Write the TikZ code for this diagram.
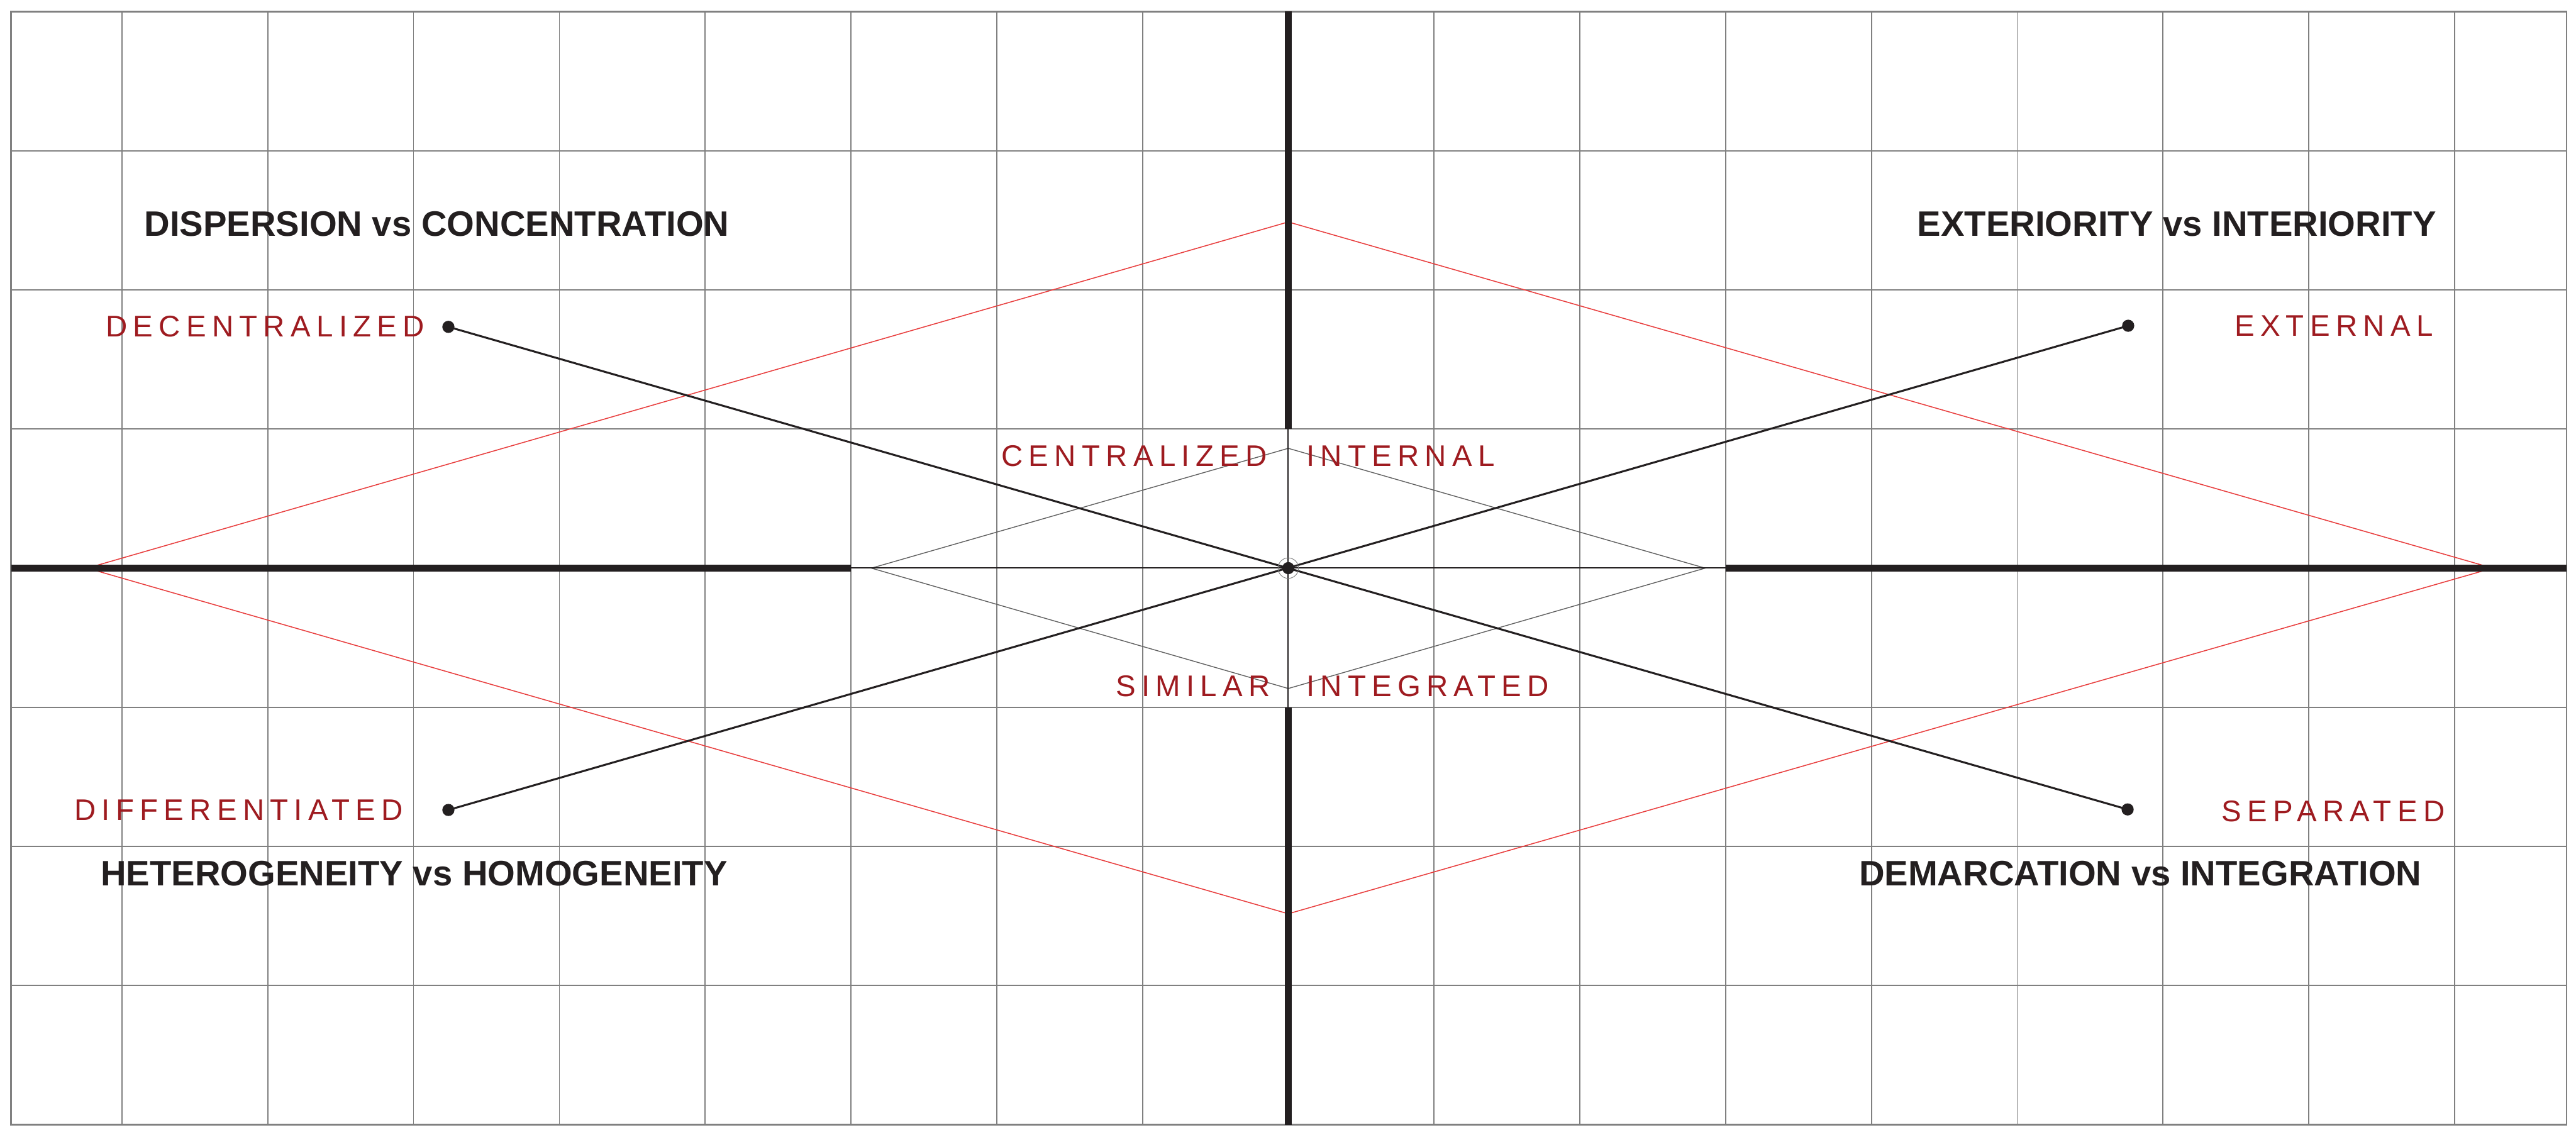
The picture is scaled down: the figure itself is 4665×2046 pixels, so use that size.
\documentclass[tikz,border=0pt]{standalone}
\usepackage{fontspec}
\setmainfont{Liberation Sans}
\newfontfamily\redfont[LetterSpace=19.5]{Liberation Sans}
\definecolor{ink}{RGB}{35,31,32}
\definecolor{gridgray}{RGB}{128,128,128}
\definecolor{diared}{RGB}{232,62,62}
\definecolor{polered}{RGB}{158,27,32}
\definecolor{innergray}{RGB}{95,95,95}
\tikzset{
  gridline/.style={draw=gridgray, line width=0.55pt},
  frameline/.style={draw=gridgray, line width=0.8pt},
  axisthick/.style={draw=ink, line width=3.4pt},
  axisthin/.style={draw=ink, line width=0.65pt},
  reddiamond/.style={draw=diared, line width=0.5pt},
  innerdiamond/.style={draw=innergray, line width=0.45pt},
  connector/.style={draw=ink, line width=1pt},
  dotnode/.style={circle, fill=ink, inner sep=0pt, minimum size=0.22cm},
  ringnode/.style={circle, draw=gray, line width=0.3pt, inner sep=0pt, minimum size=0.37cm},
  titletext/.style={font=\bfseries\fontsize{18.21pt}{22pt}\selectfont, text=ink, inner sep=0pt, anchor=base},
  poletext/.style={font=\redfont\fontsize{15.37pt}{18pt}\selectfont, text=polered, inner sep=0pt, anchor=base west}
}
\begin{document}
\begin{tikzpicture}[x=0.01cm,y=-0.01cm]
\useasboundingbox (0,0) rectangle (4665,2046);
% grid
\foreach \k in {-8,...,8}
  \draw[gridline] ({2333+264*\k},21) -- ({2333+264*\k},2037);
\foreach \yy in {21,273,...,2037}
  \draw[gridline] (20,\yy) -- (4648,\yy);
\draw[frameline] (20,21) rectangle (4648,2037);
% key points
\coordinate (ctrpt) at (2333,1029);
\coordinate (hl0) at (20,1029);
\coordinate (hl1) at (1541,1029);
\coordinate (hr1) at (3125,1029);
\coordinate (hr0) at (4648,1029);
\coordinate (vt0) at (2333,21);
\coordinate (vt1) at (2333,777);
\coordinate (vb1) at (2333,1281);
\coordinate (vb0) at (2333,2037);
\coordinate (rdL) at (158,1029);
\coordinate (rdT) at (2333,402);
\coordinate (rdR) at (4514,1029);
\coordinate (rdB) at (2333,1655);
\coordinate (idL) at (1578,1029);
\coordinate (idT) at (2333,812);
\coordinate (idR) at (3088,1029);
\coordinate (idB) at (2333,1247);
% diamonds
\draw[reddiamond] (rdL) -- (rdT) -- (rdR) -- (rdB) -- cycle;
\draw[innerdiamond] (idL) -- (idT) -- (idR) -- (idB) -- cycle;
% axes
\draw[axisthin] (hl1) -- (hr1);
\draw[axisthin] (vt1) -- (vb1);
\draw[axisthick] (hl0) -- (hl1);
\draw[axisthick] (hr1) -- (hr0);
\draw[axisthick] (vt0) -- (vt1);
\draw[axisthick] (vb1) -- (vb0);
% pole dots
\node[dotnode] (dec) at (812,592) {};
\node[dotnode] (ext) at (3854,590) {};
\node[dotnode] (dif) at (812,1467) {};
\node[dotnode] (sep) at (3853,1466) {};
\draw[connector] (dec.center) -- (sep.center);
\draw[connector] (dif.center) -- (ext.center);
\node[ringnode] (ring) at (ctrpt) {};
\node[dotnode] (ctr) at (ctrpt) {};
% titles
\node[titletext] (t1) at (791,428) {DISPERSION vs CONCENTRATION};
\node[titletext] (t2) at (3942,428) {EXTERIORITY vs INTERIORITY};
\node[titletext] (t3) at (750,1604) {HETEROGENEITY vs HOMOGENEITY};
\node[titletext] (t4) at (3876,1604) {DEMARCATION vs INTEGRATION};
% pole labels
\node[poletext] (l1) at (191,610) {DECENTRALIZED};
\node[poletext] (l2) at (4046,609) {EXTERNAL};
\node[poletext] (l3) at (1813,844) {CENTRALIZED};
\node[poletext] (l4) at (2365,844) {INTERNAL};
\node[poletext] (l5) at (2020,1261) {SIMILAR};
\node[poletext] (l6) at (2365,1261) {INTEGRATED};
\node[poletext] (l7) at (134,1486) {DIFFERENTIATED};
\node[poletext] (l8) at (4023,1488) {SEPARATED};
\end{tikzpicture}
\end{document}
